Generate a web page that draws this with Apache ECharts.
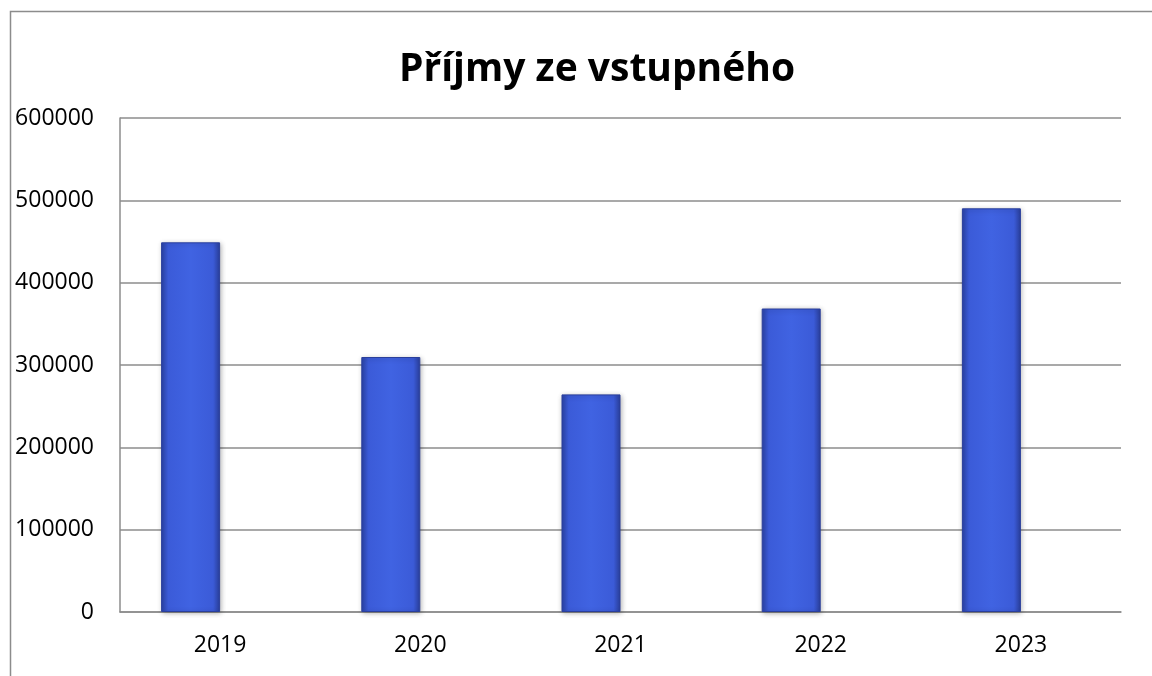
<!DOCTYPE html>
<html>
<head>
<meta charset="utf-8">
<script src="https://cdn.jsdelivr.net/npm/echarts@6/dist/echarts.min.js"></script>
<style>
  html, body { margin: 0; padding: 0; background: #fff; }
  #chart { width: 1152px; height: 676px; }
</style>
</head>
<body>
<div id="chart"></div>
<script>
var years = ['2019', '2020', '2021', '2022', '2023'];
var prijmy = [449000, 309700, 264300, 368600, 490300];
// prazdna druha rada - sloupce v originale jsou posunute doleva
var prazdna = [null, null, null, null, null];
var yTicks = [0, 100000, 200000, 300000, 400000, 500000, 600000];

var barColor = new echarts.graphic.LinearGradient(0, 0, 1, 0, [
  { offset: 0, color: '#2b43a6' },
  { offset: 0.12, color: '#3b5bd8' },
  { offset: 0.5, color: '#4063e2' },
  { offset: 0.88, color: '#3b5bd8' },
  { offset: 1, color: '#2a3f9c' }
]);

var chart = echarts.init(document.getElementById('chart'));
chart.setOption({
  backgroundColor: '#ffffff',
  animation: false,
  title: {
    text: 'Příjmy ze vstupného',
    left: 394,
    top: 45,
    textStyle: {
      fontFamily: 'Open Sans',
      fontWeight: 'bold',
      fontSize: 39,
      color: '#000'
    }
  },
  graphic: [{
    type: 'rect',
    shape: { x: 10.5, y: 11.5, width: 1300, height: 800 },
    style: { fill: 'none', stroke: '#8c8c8c', lineWidth: 1.5 },
    silent: true
  }],
  grid: { left: 120, right: 31, top: 118, bottom: 64 },
  xAxis: {
    type: 'category',
    data: years,
    axisLine: { show: true, lineStyle: { color: '#8c8c8c', width: 1.5 } },
    axisTick: { show: false },
    axisLabel: {
      margin: 22,
      fontFamily: 'Open Sans',
      fontSize: 23,
      color: '#000'
    }
  },
  yAxis: {
    type: 'value',
    min: yTicks[0],
    max: yTicks[yTicks.length - 1],
    interval: yTicks[1] - yTicks[0],
    axisLine: { show: true, lineStyle: { color: '#8c8c8c', width: 1.5 } },
    axisTick: { show: false },
    splitLine: { lineStyle: { color: '#8c8c8c', width: 1.5 } },
    axisLabel: {
      margin: 26,
      fontFamily: 'Open Sans',
      fontSize: 23,
      color: '#000',
      formatter: function (v) { return String(v); }
    }
  },
  series: [
    {
      type: 'bar',
      data: prijmy,
      barWidth: 59,
      barGap: '0%',
      itemStyle: {
        color: barColor,
        borderColor: '#2a3f9c',
        borderWidth: 1,
        shadowColor: 'rgba(0,0,0,0.3)',
        shadowBlur: 5,
        shadowOffsetX: 1,
        shadowOffsetY: 1
      }
    },
    {
      type: 'bar',
      data: prazdna,
      barWidth: 59,
      barGap: '0%'
    }
  ]
});
</script>
</body>
</html>
